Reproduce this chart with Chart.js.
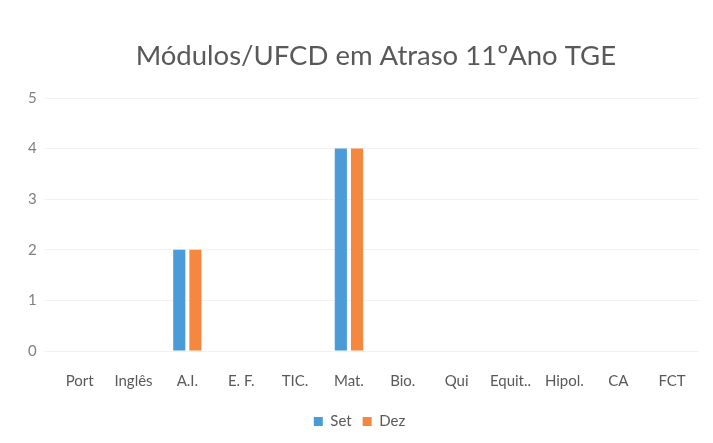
<!DOCTYPE html>
<html><head><meta charset="utf-8">
<script src="https://cdn.jsdelivr.net/npm/chart.js@4/dist/chart.umd.min.js"></script>
<style>html,body{margin:0;padding:0;background:#fff}#wrap{width:713px;height:443px;position:relative}</style>
</head><body><div id="wrap"><canvas id="c" width="713" height="443"></canvas></div>
<script>
const categories = ["Port","Inglês","A.I.","E. F.","TIC.","Mat.","Bio.","Qui","Equit..","Hipol.","CA","FCT"];
const setValues = [0,0,2,0,0,4,0,0,0,0,0,0];
const dezValues = [0,0,2,0,0,4,0,0,0,0,0,0];
const yTicks = [0,1,2,3,4,5];
const font = "Lato, 'Open Sans', sans-serif";
new Chart(document.getElementById('c'), {
  type: 'bar',
  data: {
    labels: categories,
    datasets: [
      {label:'Set', data:setValues, backgroundColor:'#4a9bd8', categoryPercentage:0.6, barPercentage:0.75},
      {label:'Dez', data:dezValues, backgroundColor:'#f5873e', categoryPercentage:0.6, barPercentage:0.75}
    ]
  },
  options: {
    responsive:false, animation:false,
    layout:{padding:{left:20,right:14,top:40,bottom:4}},
    plugins:{
      title:{display:true,fullSize:false,text:'Módulos/UFCD em Atraso 11ºAno TGE',color:'#595959',font:{family:font,size:27.5,weight:'normal'},padding:{top:0,bottom:25}},
      legend:{position:'bottom',labels:{color:'#595959',font:{family:font,size:15},boxWidth:9,boxHeight:9,padding:11}},
      tooltip:{enabled:false}
    },
    scales:{
      x:{grid:{display:false},border:{display:false},ticks:{color:'#595959',font:{family:font,size:15},maxRotation:0,autoSkip:false,padding:13}},
      y:{min:0,max:5,afterBuildTicks:(s)=>{s.ticks=yTicks.map(v=>({value:v}));},grid:{color:'#f2f2f2'},border:{display:false},ticks:{color:'#808080',font:{family:font,size:15},padding:8}}
    }
  }
});
</script></body></html>
